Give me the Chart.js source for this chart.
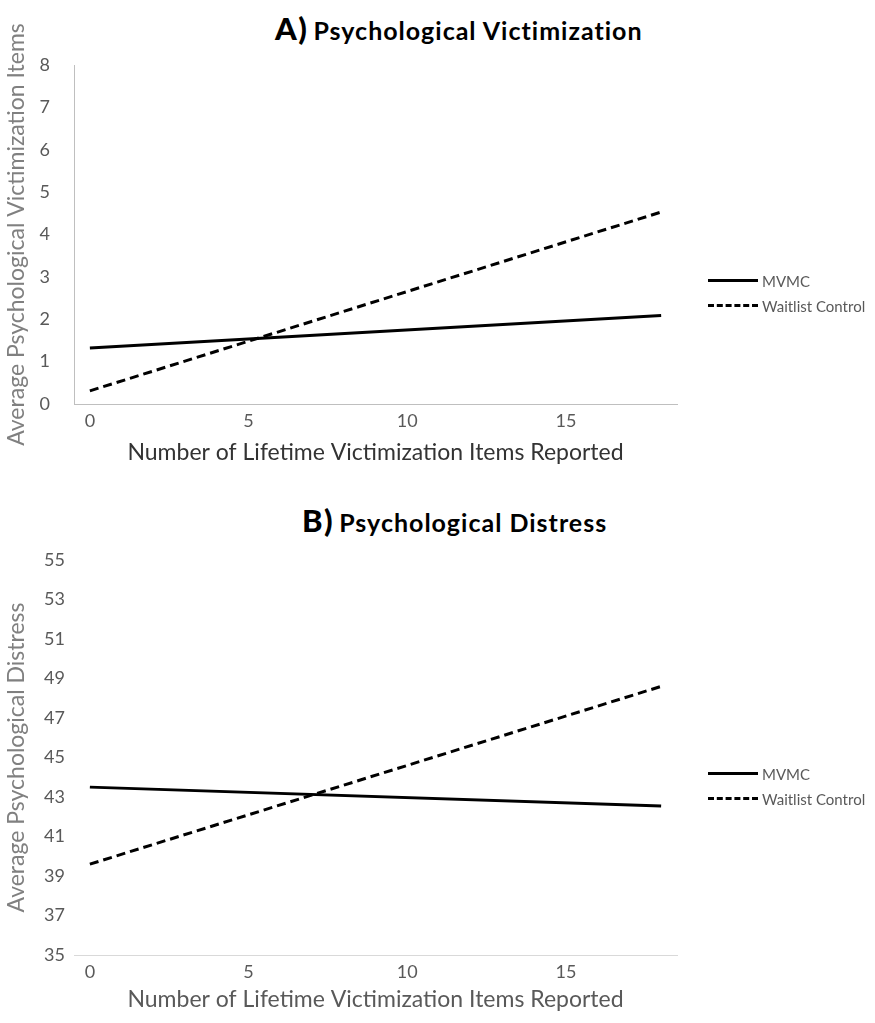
<!DOCTYPE html>
<html>
<head>
<meta charset="utf-8">
<script src="https://cdn.jsdelivr.net/npm/chart.js@4.4.1/dist/chart.umd.min.js"></script>
<style>
  body { margin: 0; background: #fff; font-family: Lato, "Open Sans", sans-serif; }
  #wrap { position: relative; width: 875px; height: 1023px; }
  canvas { position: absolute; left: 0; }
  .title { position: absolute; font-weight: bold; color: #000; white-space: nowrap; line-height: 36px; }
  .title b { font-size: 31px; letter-spacing: 1.5px; }
  .title span { font-size: 25px; letter-spacing: 1px; margin-left: 5px; }
  .legend { position: absolute; left: 708px; font-size: 15px; color: #595959; }
  .legend div { height: 25px; display: flex; align-items: center; }
  .legend i { display: inline-block; width: 50px; margin-right: 4px; border-top: 3px solid #000; }
  .legend i.dash { border-top-style: dashed; }
</style>
</head>
<body>
<div id="wrap">
  <div class="title" style="left:275px; top:10px;"><b>A)</b><span>Psychological Victimization</span></div>
  <canvas id="chartA" width="875" height="490" style="top:0"></canvas>
  <div class="legend" style="top:268px;"><div><i></i>MVMC</div><div><i class="dash"></i>Waitlist Control</div></div>

  <div class="title" style="left:302px; top:502px;"><b>B)</b><span>Psychological Distress</span></div>
  <canvas id="chartB" width="875" height="533" style="top:490px"></canvas>
  <div class="legend" style="top:761px;"><div><i></i>MVMC</div><div><i class="dash"></i>Waitlist Control</div></div>
</div>
<script>
// data (lines are straight, so endpoints only)
const groups = ['MVMC', 'Waitlist Control']
const itemsReported = [0, 18]
const xTicks = [0, 5, 10, 15]

const victMVMC = [1.32, 2.09]
const victWaitlist = [0.31, 4.53]
const victTicks = [0, 1, 2, 3, 4, 5, 6, 7, 8]

const distMVMC = [43.5, 42.54]
const distWaitlist = [39.6, 48.6]
const distTicks = [35, 37, 39, 41, 43, 45, 47, 49, 51, 53, 55]

const font = 'Lato'

function points(ys) {
    return itemsReported.map((x, i) => ({ x: x, y: ys[i] }))
}

function makeChart(id, mvmc, waitlist, yTicks, yTitle, opts) {
    const ctx = document.getElementById(id).getContext('2d')
    return new Chart(ctx, {
        type: 'line',
        data: {
            datasets: [
                {
                    label: groups[0],
                    data: points(mvmc),
                    borderColor: '#000',
                    borderWidth: 3,
                    pointRadius: 0,
                    fill: false
                },
                {
                    label: groups[1],
                    data: points(waitlist),
                    borderColor: '#000',
                    borderWidth: 3,
                    borderDash: [9, 5],
                    pointRadius: 0,
                    fill: false
                }
            ]
        },
        options: {
            responsive: false,
            animation: false,
            layout: { padding: { top: opts.top, right: 198, left: 0, bottom: opts.bottom } },
            plugins: { legend: { display: false }, tooltip: { enabled: false } },
            scales: {
                x: {
                    type: 'linear',
                    min: -0.5,
                    max: 18.5,
                    afterBuildTicks: s => { s.ticks = xTicks.map(v => ({ value: v })) },
                    afterFit: s => { s.height = opts.xHeight },
                    grid: { display: false, drawTicks: false },
                    border: { display: true, color: opts.axisColor, width: 1 },
                    ticks: { color: '#595959', font: { family: font, size: 18 }, padding: 6 },
                    title: {
                        display: true,
                        text: 'Number of Lifetime Victimization Items Reported',
                        color: opts.xTitleColor,
                        font: { family: font, size: 23 },
                        padding: 0
                    }
                },
                y: {
                    min: yTicks[0],
                    max: yTicks[yTicks.length - 1],
                    afterBuildTicks: s => { s.ticks = yTicks.map(v => ({ value: v })) },
                    afterFit: s => { s.width = 74 },
                    grid: { display: false, drawTicks: false },
                    border: { display: opts.yBorder, color: opts.axisColor, width: 1 },
                    ticks: { color: '#595959', font: { family: font, size: 18 }, padding: opts.yPad },
                    title: {
                        display: true,
                        text: yTitle,
                        color: '#808080',
                        font: { family: font, size: 23 },
                        padding: { top: 3, bottom: 0 }
                    }
                }
            }
        }
    })
}

makeChart('chartA', victMVMC, victWaitlist, victTicks, 'Average Psychological Victimization Items',
    { top: 65, bottom: 24, xHeight: 62, axisColor: '#bfbfbf', xTitleColor: '#333', yBorder: true, yPad: 24 })

makeChart('chartB', distMVMC, distWaitlist, distTicks, 'Average Psychological Distress',
    { top: 70, bottom: 10, xHeight: 58, axisColor: '#d9d9d9', xTitleColor: '#595959', yBorder: false, yPad: 9 })
</script>
</body>
</html>
